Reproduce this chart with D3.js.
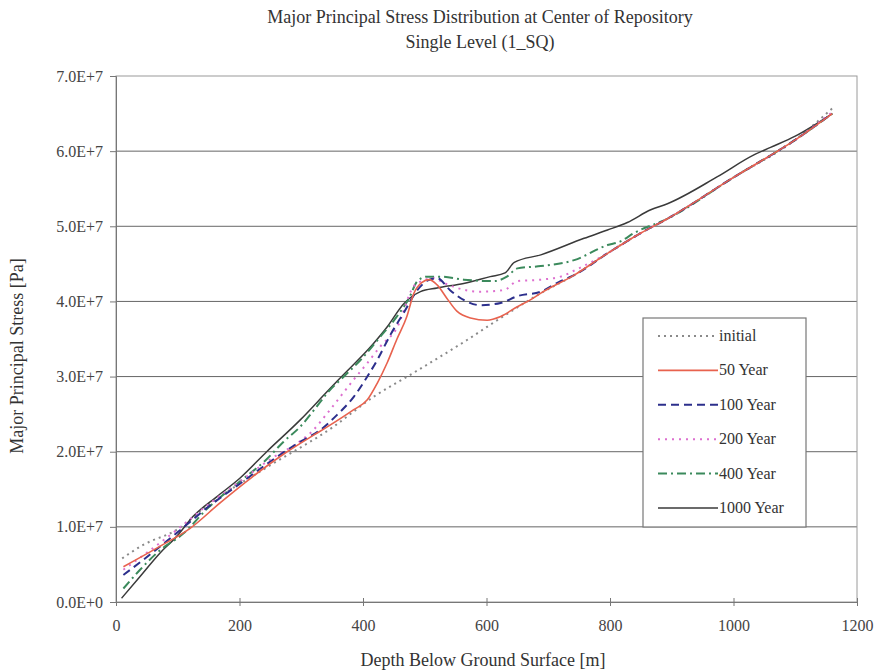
<!DOCTYPE html>
<html>
<head>
<meta charset="utf-8">
<script src="https://cdn.jsdelivr.net/npm/d3@7"></script>
<style>
  html, body { margin: 0; padding: 0; background: #fff; }
  svg { display: block; font-family: "Liberation Serif", "DejaVu Serif", serif; }
</style>
</head>
<body>
<svg id="chart" width="877" height="672"></svg>
<script>
// Depth below surface [m] and major principal stress [Pa] per time step
const initialDepth  = [10, 44, 98, 152, 250, 350, 417, 482, 569, 623, 688, 742, 796, 850, 893, 1000, 1100, 1160];
const initialStress = [0.58e7, 0.76e7, 0.96e7, 1.31e7, 1.82e7, 2.32e7, 2.73e7, 3.05e7, 3.49e7, 3.78e7, 4.11e7, 4.35e7, 4.64e7, 4.91e7, 5.10e7, 5.65e7, 6.15e7, 6.57e7];

const y50Depth  = [12, 71, 120, 170, 220, 270, 320, 342, 385, 407, 423, 439, 455, 471, 482, 495, 507, 520, 536, 552, 574, 601, 623, 650, 671, 688, 742, 796, 850, 893, 1000, 1100, 1160];
const y50Stress = [0.47e7, 0.74e7, 0.98e7, 1.33e7, 1.66e7, 1.96e7, 2.22e7, 2.33e7, 2.56e7, 2.69e7, 2.91e7, 3.18e7, 3.50e7, 3.80e7, 4.10e7, 4.25e7, 4.29e7, 4.22e7, 4.04e7, 3.87e7, 3.78e7, 3.75e7, 3.80e7, 3.93e7, 4.02e7, 4.11e7, 4.35e7, 4.64e7, 4.91e7, 5.10e7, 5.65e7, 6.15e7, 6.50e7];

const y100Depth  = [12, 44, 100, 150, 200, 250, 300, 331, 358, 385, 407, 423, 444, 466, 488, 505, 520, 541, 563, 590, 623, 650, 688, 720, 742, 796, 850, 893, 1000, 1100, 1160];
const y100Stress = [0.36e7, 0.56e7, 0.93e7, 1.27e7, 1.57e7, 1.87e7, 2.14e7, 2.29e7, 2.49e7, 2.73e7, 3.00e7, 3.22e7, 3.55e7, 3.85e7, 4.15e7, 4.28e7, 4.31e7, 4.15e7, 4.02e7, 3.95e7, 3.98e7, 4.07e7, 4.13e7, 4.27e7, 4.35e7, 4.64e7, 4.91e7, 5.10e7, 5.65e7, 6.15e7, 6.50e7];

const y200Depth  = [12, 44, 100, 150, 200, 250, 300, 315, 342, 363, 385, 407, 428, 455, 482, 498, 514, 530, 552, 590, 628, 650, 688, 720, 747, 796, 850, 893, 1000, 1100, 1160];
const y200Stress = [0.43e7, 0.62e7, 0.97e7, 1.30e7, 1.60e7, 1.90e7, 2.15e7, 2.25e7, 2.51e7, 2.73e7, 2.96e7, 3.18e7, 3.40e7, 3.65e7, 4.20e7, 4.28e7, 4.31e7, 4.25e7, 4.18e7, 4.13e7, 4.15e7, 4.27e7, 4.29e7, 4.33e7, 4.43e7, 4.64e7, 4.91e7, 5.10e7, 5.65e7, 6.15e7, 6.52e7];

const y400Depth  = [12, 39, 70, 109, 150, 200, 244, 271, 298, 325, 342, 369, 396, 428, 455, 475, 488, 504, 525, 563, 612, 633, 650, 688, 742, 796, 817, 839, 893, 1000, 1100, 1160];
const y400Stress = [0.18e7, 0.43e7, 0.68e7, 0.91e7, 1.26e7, 1.60e7, 1.90e7, 2.13e7, 2.33e7, 2.60e7, 2.78e7, 3.00e7, 3.22e7, 3.53e7, 3.80e7, 4.05e7, 4.27e7, 4.33e7, 4.33e7, 4.29e7, 4.27e7, 4.33e7, 4.44e7, 4.47e7, 4.55e7, 4.75e7, 4.80e7, 4.91e7, 5.10e7, 5.65e7, 6.15e7, 6.50e7];

const y1000Depth  = [9, 39, 71, 98, 125, 163, 201, 244, 298, 342, 363, 417, 439, 466, 493, 520, 563, 606, 630, 645, 688, 758, 796, 828, 866, 893, 974, 1033, 1060, 1100, 1160];
const y1000Stress = [0.05e7, 0.34e7, 0.65e7, 0.87e7, 1.14e7, 1.40e7, 1.65e7, 2.00e7, 2.42e7, 2.80e7, 2.98e7, 3.44e7, 3.66e7, 3.97e7, 4.13e7, 4.18e7, 4.24e7, 4.33e7, 4.38e7, 4.52e7, 4.62e7, 4.84e7, 4.95e7, 5.05e7, 5.22e7, 5.30e7, 5.66e7, 5.95e7, 6.05e7, 6.20e7, 6.50e7];

const seriesNames = ["initial", "50 Year", "100 Year", "200 Year", "400 Year", "1000 Year"];
const xTicks = [0, 200, 400, 600, 800, 1000, 1200];
const yTicks = [0, 1e7, 2e7, 3e7, 4e7, 5e7, 6e7, 7e7];
const yTickLabels = ["0.0E+0", "1.0E+7", "2.0E+7", "3.0E+7", "4.0E+7", "5.0E+7", "6.0E+7", "7.0E+7"];

const series = [
  { name: seriesNames[0], depth: initialDepth, stress: initialStress, color: "#8a8a8a", width: 2,   dash: "2,4" },
  { name: seriesNames[1], depth: y50Depth,    stress: y50Stress,    color: "#e8624e", width: 1.6, dash: null },
  { name: seriesNames[2], depth: y100Depth,   stress: y100Stress,   color: "#2c2f8c", width: 2,   dash: "8,5" },
  { name: seriesNames[3], depth: y200Depth,   stress: y200Stress,   color: "#dd6fcf", width: 2,   dash: "2,5" },
  { name: seriesNames[4], depth: y400Depth,   stress: y400Stress,   color: "#3b8a5c", width: 2,   dash: "9,4,2,4" },
  { name: seriesNames[5], depth: y1000Depth,  stress: y1000Stress,  color: "#3a3a3a", width: 1.5, dash: null }
];

const svg = d3.select("#chart");
const plot = { left: 116, right: 857, top: 76, bottom: 602 };

const x = d3.scaleLinear().domain([0, 1200]).range([plot.left, plot.right]);
const y = d3.scaleLinear().domain([0, 7e7]).range([plot.bottom, plot.top]);

// Horizontal gridlines
svg.append("g")
  .selectAll("line")
  .data(yTicks.slice(1, -1))
  .join("line")
  .attr("x1", plot.left).attr("x2", plot.right)
  .attr("y1", d => y(d)).attr("y2", d => y(d))
  .attr("stroke", "#666").attr("stroke-width", 1);

// Plot frame
svg.append("rect")
  .attr("x", plot.left).attr("y", plot.top)
  .attr("width", plot.right - plot.left).attr("height", plot.bottom - plot.top)
  .attr("fill", "none").attr("stroke", "#9a9a9a").attr("stroke-width", 1);

// Y axis
const yAxis = d3.axisLeft(y)
  .tickValues(yTicks)
  .tickFormat((d, i) => yTickLabels[i])
  .tickSize(6).tickPadding(7);
const gy = svg.append("g").attr("transform", `translate(${plot.left},0)`).call(yAxis);
gy.select(".domain").attr("stroke", "#777");
gy.selectAll(".tick line").attr("stroke", "#777");
gy.selectAll(".tick text").attr("fill", "#444").attr("font-size", 16)
  .attr("font-family", "Liberation Serif, serif");

// X axis
const xAxis = d3.axisBottom(x)
  .tickValues(xTicks)
  .tickFormat(d3.format("d"))
  .tickSizeInner(4).tickSizeOuter(0).tickPadding(14);
const gx = svg.append("g").attr("transform", `translate(0,${plot.bottom})`).call(xAxis);
gx.select(".domain").attr("stroke", "#777");
gx.selectAll(".tick line").attr("stroke", "#777").attr("y1", -4);
gx.selectAll(".tick text").attr("fill", "#444").attr("font-size", 16)
  .attr("font-family", "Liberation Serif, serif");

// Series lines
const line = d3.line()
  .x(d => x(d[0]))
  .y(d => y(d[1]))
  .curve(d3.curveMonotoneX);

const drawOrder = [0, 5, 4, 3, 2, 1];
svg.append("g")
  .selectAll("path")
  .data(drawOrder.map(i => series[i]))
  .join("path")
  .attr("d", s => line(d3.zip(s.depth, s.stress)))
  .attr("fill", "none")
  .attr("stroke", s => s.color)
  .attr("stroke-width", s => s.width)
  .attr("stroke-dasharray", s => s.dash)
  .attr("stroke-linejoin", "round");

// Titles
svg.append("text")
  .attr("x", 480).attr("y", 23)
  .attr("text-anchor", "middle").attr("font-size", 18).attr("fill", "#333")
  .text("Major Principal Stress Distribution at Center of Repository");
svg.append("text")
  .attr("x", 480).attr("y", 48)
  .attr("text-anchor", "middle").attr("font-size", 18).attr("fill", "#333")
  .text("Single Level (1_SQ)");

svg.append("text")
  .attr("x", 483).attr("y", 666)
  .attr("text-anchor", "middle").attr("font-size", 18).attr("fill", "#333")
  .text("Depth Below Ground Surface [m]");

svg.append("text")
  .attr("transform", "translate(23,356) rotate(-90)")
  .attr("text-anchor", "middle").attr("font-size", 18).attr("fill", "#333")
  .text("Major Principal Stress [Pa]");

// Legend
const legend = svg.append("g");
legend.append("rect")
  .attr("x", 643).attr("y", 318).attr("width", 163).attr("height", 209)
  .attr("fill", "#fff").attr("stroke", "#777").attr("stroke-width", 1.2);

const legendY = d3.scalePoint().domain(seriesNames).range([336, 508]);
const items = legend.selectAll("g.item")
  .data(series)
  .join("g")
  .attr("class", "item")
  .attr("transform", s => `translate(0,${legendY(s.name)})`);
items.append("line")
  .attr("x1", 658).attr("x2", 718).attr("y1", 0).attr("y2", 0)
  .attr("stroke", s => s.color)
  .attr("stroke-width", s => s.width)
  .attr("stroke-dasharray", s => s.dash);
items.append("text")
  .attr("x", 719).attr("y", 5)
  .attr("font-size", 16).attr("fill", "#333")
  .text(s => s.name);
</script>
</body>
</html>
